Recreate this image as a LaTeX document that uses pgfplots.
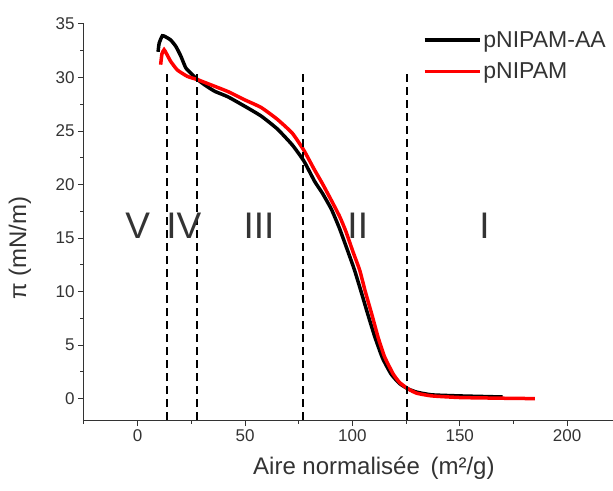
\documentclass[border=0pt]{standalone}
\usepackage{fontspec}
\setmainfont{Liberation Sans}
\usepackage{pgfplots}
\pgfplotsset{compat=1.18}
\definecolor{txt}{HTML}{333333}
\begin{document}
\begin{tikzpicture}
\begin{axis}[
  scale only axis, width=536.8pt, height=396pt,
  xmin=-25, xmax=225, ymin=-2, ymax=35,
  axis lines*=left,
  axis line style={line width=1pt, black!80},
  xtick={0,50,...,200}, ytick={0,5,...,35},
  minor xtick={-25,25,75,125,175,225},
  minor ytick={2.5,7.5,...,32.5},
  tick align=outside,
  major tick length=6pt, minor tick length=3.5pt,
  tick style={line width=1pt, black!80},
  /pgf/number format/assume math mode=true,
  ticklabel style={font=\fontsize{17}{20}\selectfont, text=txt},
  xlabel={Aire normalisée\, (m²/g)},
  ylabel={π (mN/m)},
  xlabel style={font=\fontsize{24}{28}\selectfont, text=txt, at={(rel axis cs:0.54,0)}, anchor=center, yshift=-48pt},
  ylabel style={font=\fontsize{24}{28}\selectfont, text=txt, at={(rel axis cs:0,0.434)}, anchor=center, yshift=64pt},
  legend style={at={(rel axis cs:0.631,0.987)}, anchor=north west, draw=none, fill=none, inner sep=0pt,
    font=\fontsize{23}{27}\selectfont, text=txt, row sep=10pt},
  legend cell align=left,
  legend image code/.code={\draw[#1, line width=3.5pt] (0pt,0pt) -- (55pt,0pt);},
]
\coordinate (sw) at (rel axis cs:0,0);
\coordinate (ne) at (rel axis cs:1,1);
\addplot[black, line width=3.5pt, smooth, tension=0.3] coordinates {
(9.5,32.4) (10,33.2) (11.5,33.9) (13,33.8) (15.4,33.5) (17.8,32.9) (20.1,32.0) (22.4,30.9) (24.8,30.4) (27.9,29.8)
(32,29.2) (36,28.7) (42,28.2) (50,27.3) (57.5,26.4) (65,25.2) (72,23.7) (77.4,22.2) (82.4,20.3) (86,19.2)
(90.2,17.7) (94,15.9) (98,13.7) (101,12) (104.2,9.9) (107,8) (110.4,5.8) (114,3.8) (118,2.3) (122,1.4)
(126,0.9) (130,0.6) (137,0.35) (150,0.25) (160,0.2) (170,0.15)};
\addlegendentry{pNIPAM-AA}
\addplot[red, line width=3.5pt, smooth, tension=0.3] coordinates {
(10.7,31.2) (11.3,32.2) (12.3,32.6) (13.5,32.2) (15.4,31.5) (18.5,30.7) (23.2,30.1) (27.9,29.8) (33,29.4) (41.9,28.7)
(50,27.9) (57.5,27.2) (65,26.1) (72,24.8) (77.4,23.2) (82,21.5) (86,20.1) (90,18.6) (94.1,17.0) (97,15.6)
(100.3,13.7) (103.4,12) (106,10) (109,7.9) (112,5.7) (115,3.9) (119,2.3) (122,1.5) (126,0.9) (130,0.5)
(137,0.25) (150,0.1) (165,0.05) (175,0.02) (185,0)};
\addlegendentry{pNIPAM}
\addplot[black, line width=1.8pt, dash pattern=on 8pt off 5pt, forget plot] coordinates {(13.5,-2) (13.5,30.3)};
\addplot[black, line width=1.8pt, dash pattern=on 8pt off 5pt, forget plot] coordinates {(27.5,-2) (27.5,30.3)};
\addplot[black, line width=1.8pt, dash pattern=on 8pt off 5pt, forget plot] coordinates {(77,-2) (77,30.3)};
\addplot[black, line width=1.8pt, dash pattern=on 8pt off 5pt, forget plot] coordinates {(125.5,-2) (125.5,30.3)};
\node[font=\fontsize{37}{40}\selectfont, text=txt, anchor=base] at (axis cs:0,15) {V};
\node[font=\fontsize{37}{40}\selectfont, text=txt, anchor=base] at (axis cs:21.5,15) {IV};
\node[font=\fontsize{37}{40}\selectfont, text=txt, anchor=base] at (axis cs:56.5,15) {III};
\node[font=\fontsize{37}{40}\selectfont, text=txt, anchor=base] at (axis cs:102.5,15) {II};
\node[font=\fontsize{37}{40}\selectfont, text=txt, anchor=base] at (axis cs:161.5,15) {I};
\end{axis}
\pgfresetboundingbox
\path ([shift={(-84pt,-70pt)}]sw) rectangle ([shift={(529pt,24pt)}]sw |- ne);
\end{tikzpicture}
\end{document}
